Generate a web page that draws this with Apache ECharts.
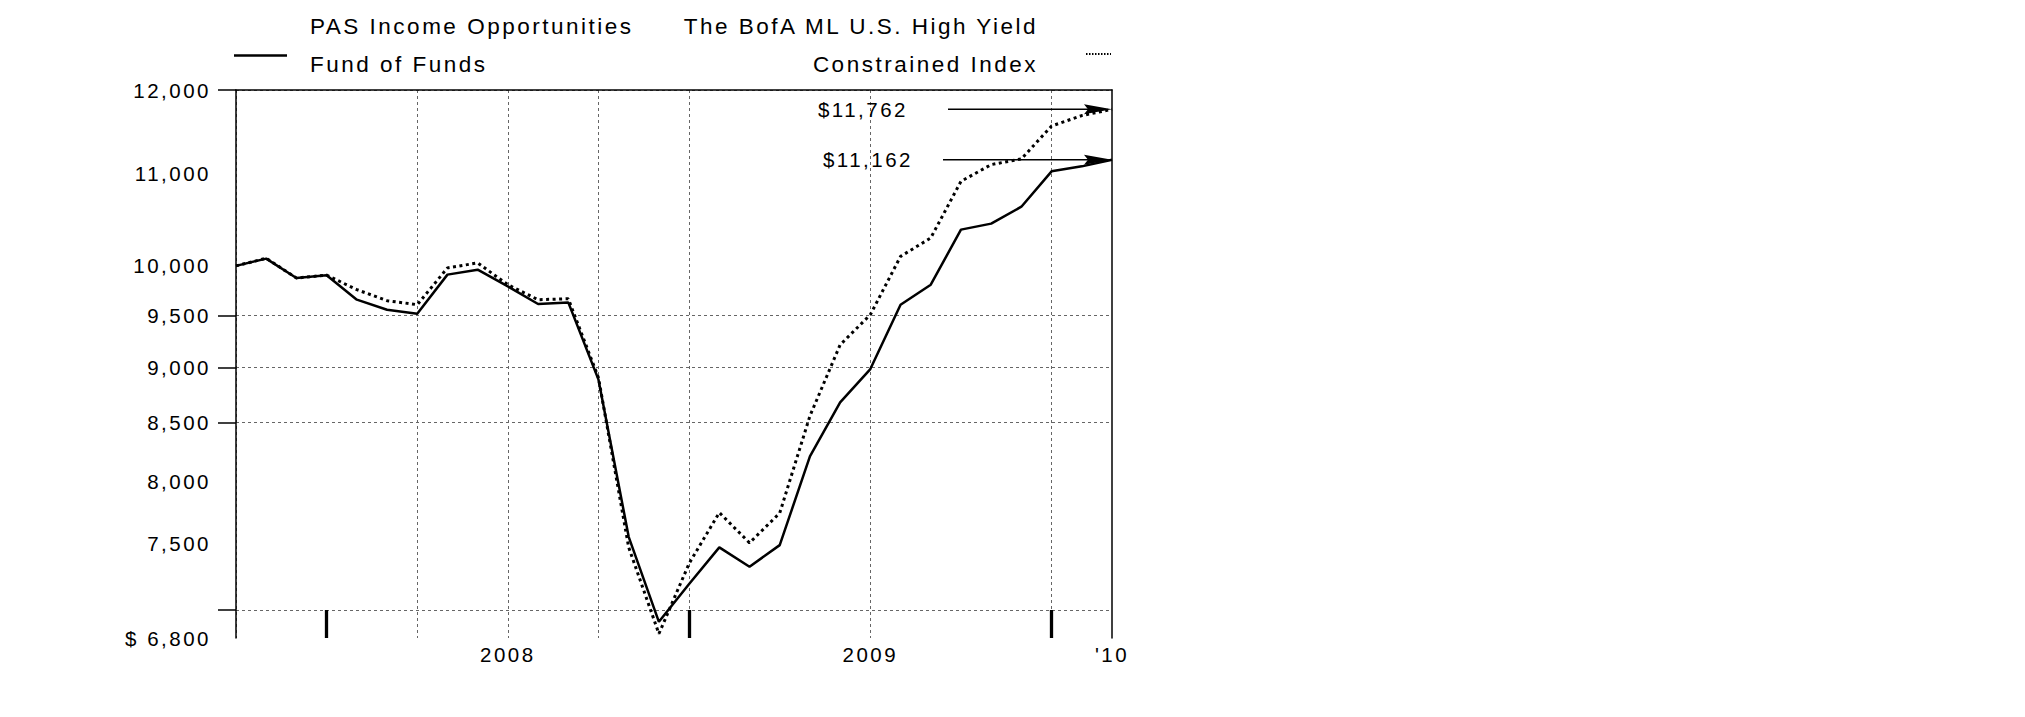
<!DOCTYPE html>
<html>
<head>
<meta charset="utf-8">
<title>PAS Income Opportunities Fund of Funds</title>
<script src="https://cdn.jsdelivr.net/npm/echarts@6/dist/echarts.min.js"></script>
<style>
  html, body { margin: 0; background: #fff; }
  #chart { width: 2025px; height: 717px; }
  #chart text { letter-spacing: 2.5px; }
</style>
</head>
<body>
<div id="chart"></div>
<script>
// month-end values of a $10,000 investment, Sep 2007 - Feb 2010
const months = [
  'Sep-07', 'Oct-07', 'Nov-07', 'Dec-07',
  'Jan-08', 'Feb-08', 'Mar-08', 'Apr-08', 'May-08', 'Jun-08', 'Jul-08', 'Aug-08', 'Sep-08', 'Oct-08', 'Nov-08', 'Dec-08',
  'Jan-09', 'Feb-09', 'Mar-09', 'Apr-09', 'May-09', 'Jun-09', 'Jul-09', 'Aug-09', 'Sep-09', 'Oct-09', 'Nov-09', 'Dec-09',
  'Jan-10', 'Feb-10'
]
const fundValues = [
  10000, 10076, 9875, 9903,
  9656, 9556, 9517, 9910, 9961, 9790, 9613, 9629, 8888, 7552, 6915, 7191,
  7470, 7321, 7487, 8208, 8681, 8986, 9606, 9807, 10383, 10448, 10633, 11030,
  11087, 11162
]
const indexValues = [
  10000, 10080, 9875, 9905,
  9757, 9646, 9606, 9979, 10031, 9807, 9656, 9665, 8905, 7470, 6830, 7346,
  7744, 7505, 7740, 8560, 9215, 9507, 10099, 10294, 10916, 11107, 11173, 11560,
  11686, 11762
]
const endLabels = ['$11,162', '$11,762']

const yLabelValues = [12000, 11000, 10000, 9500, 9000, 8500, 8000, 7500, 6800]
const yLabelTexts = ['12,000', '11,000', '10,000', '9,500', '9,000', '8,500', '8,000', '7,500', '$ 6,800']
const yTickValues = [12000, 9500, 9000, 8500, 7000]
const yMin = 6800
const yMax = 12000

const xLabelPos = [9, 21, 29]
const xLabelTexts = ['2008', '2009', "'10"]
const yearTickPos = [3, 15, 27]
const xGridPos = [0, 6, 9, 12, 15, 21, 27]

const lg = (v) => Math.log10(v)
const font = "'Liberation Sans', Arial, Helvetica, sans-serif"
const gridLine = { color: '#666', width: 1, type: [3, 3] }

const chart = echarts.init(document.getElementById('chart'), null, { renderer: 'svg' })

chart.setOption({
  animation: false,
  grid: { left: 236, right: 913, top: 90, bottom: 79 },
  xAxis: [{
    type: 'category',
    data: months,
    boundaryGap: false,
    axisLine: { show: false },
    axisTick: {
      show: true,
      inside: true,
      length: 28,
      interval: (idx) => yearTickPos.includes(idx),
      lineStyle: { color: '#000', width: 3.3 }
    },
    axisLabel: {
      interval: (idx) => xLabelPos.includes(idx),
      formatter: (val, idx) => xLabelTexts[xLabelPos.indexOf(idx)] || '',
      color: '#000',
      fontFamily: font,
      fontSize: 20.5,
      margin: 6
    },
    splitLine: {
      show: true,
      interval: (idx) => xGridPos.includes(idx),
      lineStyle: gridLine
    }
  }, {
    type: 'category',
    data: months,
    boundaryGap: false,
    position: 'top',
    axisLine: { show: true, lineStyle: { color: '#000', width: 1.5 } },
    axisTick: { show: false },
    axisLabel: { show: false },
    splitLine: { show: false }
  }],
  yAxis: [{
    type: 'value',
    min: lg(yMin),
    max: lg(yMax),
    axisLine: { show: true, lineStyle: { color: '#000', width: 1.5 } },
    axisTick: {
      show: true,
      length: 18,
      customValues: yTickValues.map(lg),
      lineStyle: { color: '#000', width: 1.5 }
    },
    axisLabel: {
      customValues: yLabelValues.map(lg),
      formatter: (v) => yLabelTexts[yLabelValues.findIndex((t) => Math.abs(lg(t) - v) < 1e-7)] || '',
      color: '#000',
      fontFamily: font,
      fontSize: 20.5,
      margin: 25
    },
    splitLine: { show: true, lineStyle: gridLine }
  }, {
    type: 'value',
    position: 'right',
    min: lg(yMin),
    max: lg(yMax),
    axisLine: { show: true, lineStyle: { color: '#000', width: 1.5 } },
    axisTick: { show: false },
    axisLabel: { show: false },
    splitLine: { show: false }
  }],
  series: [{
    name: 'PAS Income Opportunities Fund of Funds',
    type: 'line',
    data: fundValues.map(lg),
    symbol: 'none',
    lineStyle: { color: '#000', width: 2.5 },
    z: 3
  }, {
    name: 'The BofA ML U.S. High Yield Constrained Index',
    type: 'line',
    data: indexValues.map(lg),
    symbol: 'none',
    lineStyle: { color: '#000', width: 3, type: [3, 3.5], cap: 'butt' },
    z: 2
  }]
})

// legend, drawn by hand to keep the two-line layout
const legendFont = `22.5px ${font}`
const legendText = (text, x, y, align) => ({
  type: 'text', x, y,
  style: { text, font: legendFont, fill: '#000', textAlign: align, textVerticalAlign: 'middle' }
})
const graphics = [
  legendText('PAS Income Opportunities', 310, 26, 'left'),
  legendText('Fund of Funds', 310, 64, 'left'),
  { type: 'line', shape: { x1: 234, y1: 55.5, x2: 287, y2: 55.5 }, style: { stroke: '#000', lineWidth: 2.5 } },
  legendText('The BofA ML U.S. High Yield', 1038, 26, 'right'),
  legendText('Constrained Index', 1038, 64, 'right'),
  { type: 'line', shape: { x1: 1086, y1: 54, x2: 1111, y2: 54 }, style: { stroke: '#000', lineWidth: 2, lineDash: [1.5, 1.5] } }
]

// end-value arrows, anchored to the last data points
const ends = [
  { value: fundValues[fundValues.length - 1], text: endLabels[0], len: 169, gap: 30 },
  { value: indexValues[indexValues.length - 1], text: endLabels[1], len: 164, gap: 40 }
]
ends.forEach((e) => {
  const [px, py] = chart.convertToPixel({ xAxisIndex: 0, yAxisIndex: 0 }, [months.length - 1, lg(e.value)])
  const sx = px - e.len
  graphics.push(
    { type: 'line', shape: { x1: sx, y1: py, x2: px - 24, y2: py }, style: { stroke: '#000', lineWidth: 1.5 } },
    { type: 'polygon', shape: { points: [[px - 28, py - 5], [px, py], [px - 28, py + 5], [px - 24, py]] }, style: { fill: '#000' } },
    { type: 'text', x: sx - e.gap, y: py, style: { text: e.text, font: `20.5px ${font}`, fill: '#000', textAlign: 'right', textVerticalAlign: 'middle' } }
  )
})

chart.setOption({ graphic: graphics })
</script>
</body>
</html>
